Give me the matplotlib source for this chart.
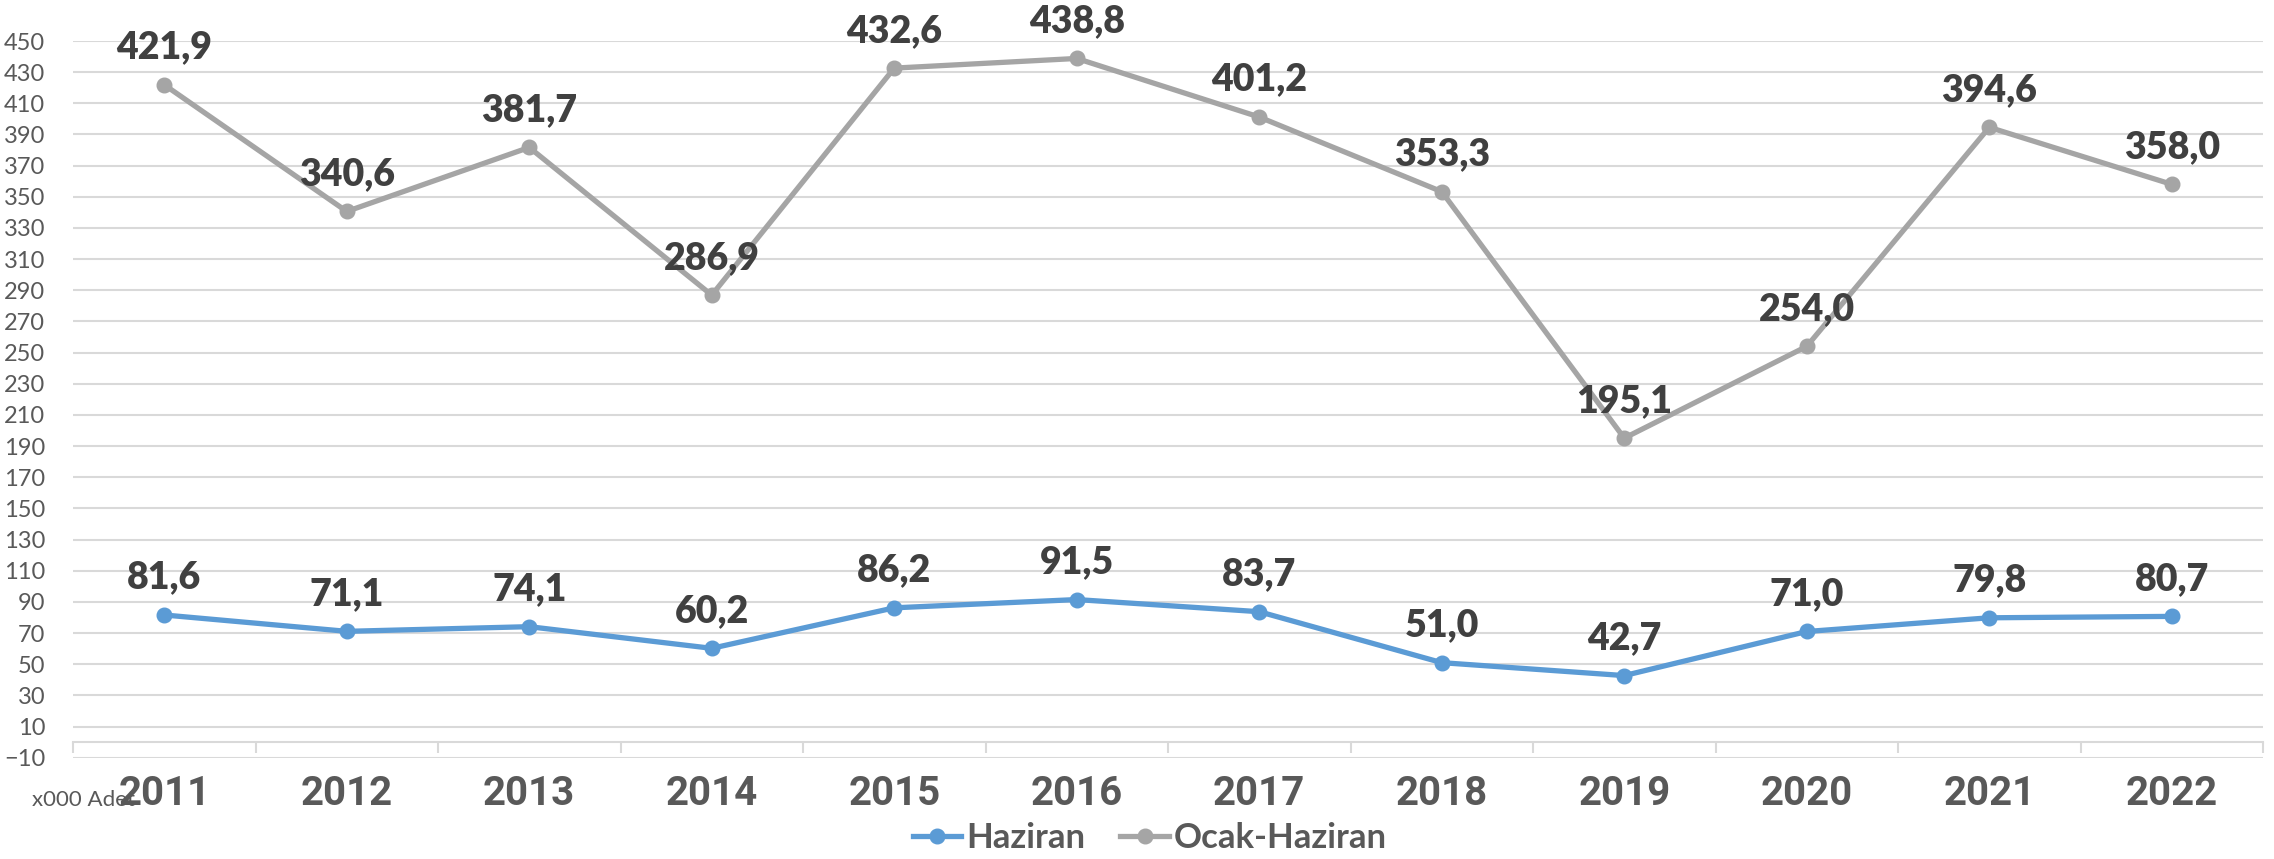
import matplotlib
matplotlib.use("Agg")
import matplotlib.pyplot as plt
from matplotlib.ticker import FixedLocator
from matplotlib.lines import Line2D

years = ["2011", "2012", "2013", "2014", "2015", "2016", "2017", "2018", "2019", "2020", "2021", "2022"]
haziran = [81.6, 71.1, 74.1, 60.2, 86.2, 91.5, 83.7, 51.0, 42.7, 71.0, 79.8, 80.7]
ocak_haziran = [421.9, 340.6, 381.7, 286.9, 432.6, 438.8, 401.2, 353.3, 195.1, 254.0, 394.6, 358.0]
series_names = ["Haziran", "Ocak-Haziran"]

blue = "#5B9BD5"
gray = "#A5A5A5"
grid_c = "#D9D9D9"
label_c = "#404040"
tick_c = "#595959"

fig = plt.figure(figsize=(22.74, 8.59), dpi=100)
ax = fig.add_axes([73/2274, 1 - 757.7/859, (2263-73)/2274, (757.7-41)/859])

x = list(range(len(years)))
for vals, col, name in [(haziran, blue, series_names[0]), (ocak_haziran, gray, series_names[1])]:
    ax.plot(x, vals, color=col, lw=3.8, marker="o", ms=10.5, solid_capstyle="round", zorder=3, label=name)
    for xi, v in zip(x, vals):
        ax.annotate(f"{v:.1f}".replace(".", ","), (xi, v), xytext=(0, 19), textcoords="offset points",
                    ha="center", va="baseline", fontsize=27, fontweight="heavy",
                    color=label_c, family="Lato", zorder=4)

ax.set_xlim(-0.5, len(years) - 0.5)
ax.set_ylim(-10, 450)
ax.set_yticks(range(-10, 451, 20))
ax.grid(axis="y", color=grid_c, lw=1.5, zorder=0)
ax.set_axisbelow(True)

for s in ["top", "right", "left"]:
    ax.spines[s].set_visible(False)
ax.spines["bottom"].set_position(("data", 0))
ax.spines["bottom"].set_color(grid_c)
ax.spines["bottom"].set_linewidth(1.5)

ax.set_xticks(x)
ax.set_xticklabels(years, fontsize=29, fontweight="bold", color=tick_c, family="Roboto")
ax.tick_params(axis="x", which="major", length=0, pad=24)
ax.xaxis.set_minor_locator(FixedLocator([i - 0.5 for i in range(len(years) + 1)]))
ax.tick_params(axis="x", which="minor", length=8, width=1.5, color=grid_c, direction="out")

ax.tick_params(axis="y", length=0, pad=20, labelsize=17, labelcolor=tick_c)
for t in ax.get_yticklabels():
    t.set_family("Lato")

fig.text(32/2274, 1 - 800/859, "x000 Adet", fontsize=16, color=tick_c, family="Lato", va="center", ha="left")

handles = [Line2D([0], [0], color=blue, lw=3.8, marker="o", ms=10.5),
           Line2D([0], [0], color=gray, lw=3.8, marker="o", ms=10.5)]
fig.legend(handles, series_names, loc="center", bbox_to_anchor=(1150/2274, 1 - 838/859), ncol=2,
           frameon=False, prop={"family": "Lato", "weight": "bold", "size": 25},
           labelcolor=tick_c, handlelength=1.4, handletextpad=0.15, columnspacing=1.0)

fig.savefig("out.png", dpi=100)
